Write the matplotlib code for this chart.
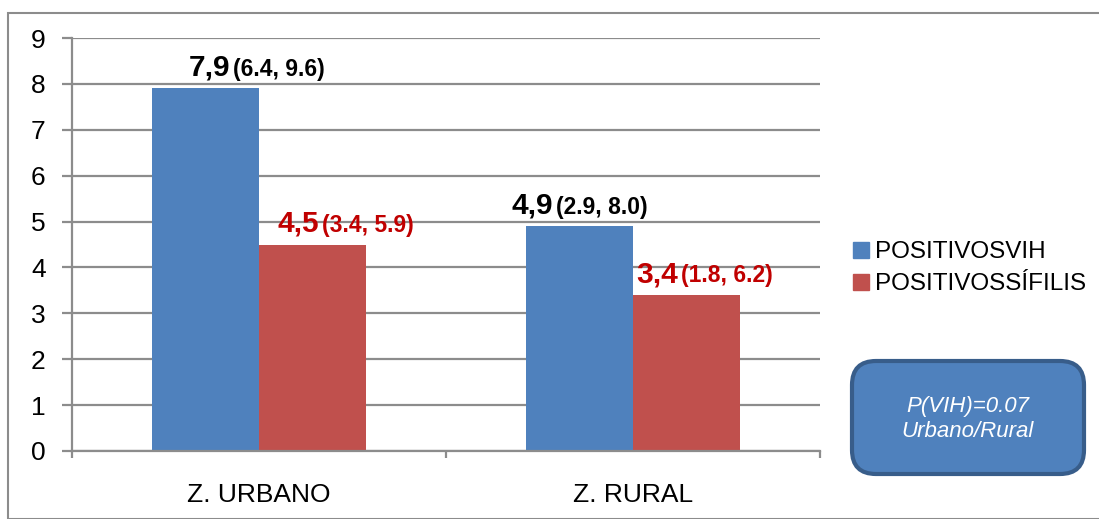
import numpy as np
import matplotlib
matplotlib.use("Agg")
from matplotlib import pyplot as plt
from matplotlib.patches import Rectangle, FancyBboxPatch
from matplotlib.lines import Line2D
from matplotlib.transforms import IdentityTransform

plt.rcParams['font.family'] = ['Liberation Sans', 'DejaVu Sans']

categories = ["Z. URBANO", "Z. RURAL"]
series_names = ["POSITIVOSVIH", "POSITIVOSSÍFILIS"]
vih = [7.9, 4.9]
sifilis = [4.5, 3.4]
vih_ci = ["(6.4, 9.6)", "(2.9, 8.0)"]
sifilis_ci = ["(3.4, 5.9)", "(1.8, 6.2)"]
note = "P(VIH)=0.07\nUrbano/Rural"

blue = "#4F81BD"
red = "#C0504D"
grid_grey = "#8C8C8C"

W, H = 1099, 519
fig = plt.figure(figsize=(W / 100, H / 100), dpi=100)

# outer chart frame
fig.patches.append(Rectangle((8 / W, 0), 1.2, 1 - 13 / H, transform=fig.transFigure,
                             fill=False, edgecolor="#8C8C8C", linewidth=1.5))

ax = fig.add_axes([72 / W, 1 - 451 / H, (820 - 72) / W, (451 - 38) / H])

x = np.arange(len(categories))
bw = 0.285
b1 = ax.bar(x - bw / 2, vih, bw, color=blue, label=series_names[0])
b2 = ax.bar(x + bw / 2, sifilis, bw, color=red, label=series_names[1])

ax.set_xlim(-0.5, 1.5)
ax.set_ylim(0, 9)
ax.set_yticks(range(10))
ax.yaxis.grid(True, color=grid_grey, linewidth=1.6)
ax.set_axisbelow(True)
for s in ["top", "right"]:
    ax.spines[s].set_visible(False)
for s in ["left", "bottom"]:
    ax.spines[s].set_color(grid_grey)
    ax.spines[s].set_linewidth(1.6)

ax.tick_params(axis="y", length=7, width=1.6, color=grid_grey, labelsize=19, pad=12)
ax.set_xticks(x)
ax.set_xticklabels(categories)
ax.set_xticks([-0.5, 0.5, 1.5], minor=True)
ax.tick_params(axis="x", which="major", length=0, labelsize=19, pad=23)
ax.tick_params(axis="x", which="minor", length=5, width=1.6, color=grid_grey)


def value_label(bar, value, ci, color, dx):
    cx = bar.get_x() + bar.get_width() / 2
    top = bar.get_height()
    ax.annotate(f"{value:.1f}".replace(".", ","), (cx, top), xytext=(dx, 9),
                textcoords="offset points", ha="right", va="baseline",
                fontsize=21.5, fontweight="bold", color=color)
    ax.annotate(ci, (cx, top), xytext=(dx + 2, 9), textcoords="offset points",
                ha="left", va="baseline", fontsize=16.5, fontweight="bold", color=color)


label_dx_vih = [18, -19]
label_dx_sif = [5, -6]
for i in range(len(categories)):
    value_label(b1[i], vih[i], vih_ci[i], "black", label_dx_vih[i])
    value_label(b2[i], sifilis[i], sifilis_ci[i], "#C00000", label_dx_sif[i])

handles = [Line2D([], [], marker="s", linestyle="none", markersize=12,
                  markerfacecolor=c, markeredgecolor=c) for c in (blue, red)]
fig.legend(handles, series_names, loc="upper left", bbox_to_anchor=(840 / W, 1 - 229 / H),
           frameon=False, fontsize=17.5, handlelength=0.75, handletextpad=0.2,
           labelspacing=0.42, borderpad=0)

# rounded note box, laid out in pixels
box = FancyBboxPatch((852, H - 474), 232, 113, boxstyle="round,pad=0,rounding_size=24",
                     transform=IdentityTransform(), facecolor=blue, edgecolor="#385D8A",
                     linewidth=3)
fig.patches.append(box)
fig.text(968 / W, 1 - 419 / H, note, ha="center", va="center", color="white",
         fontsize=16, fontstyle="italic", linespacing=1.2)

fig.savefig("out.png", dpi=100)
